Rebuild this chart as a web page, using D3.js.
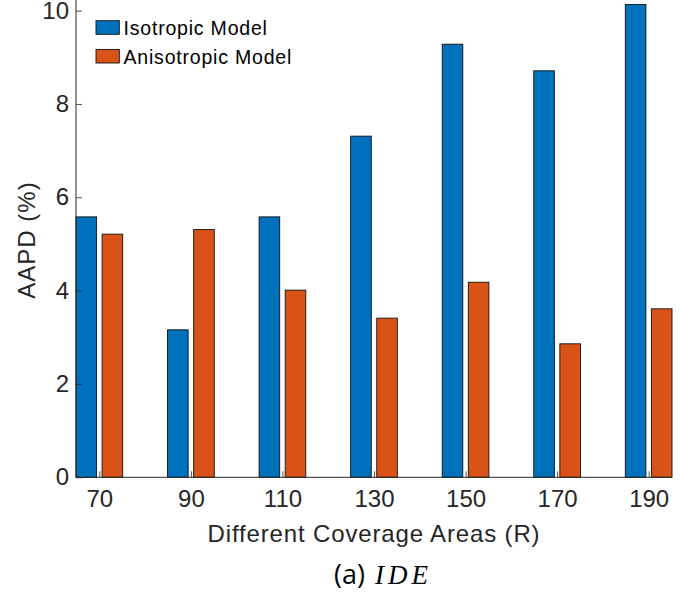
<!DOCTYPE html>
<html>
<head>
<meta charset="utf-8">
<script src="https://cdn.jsdelivr.net/npm/d3@7/dist/d3.min.js"></script>
<style>
  html, body { margin: 0; padding: 0; background: #fff; }
  svg { display: block; }
  text { font-family: "Liberation Sans", Arial, Helvetica, sans-serif; }
</style>
</head>
<body>
<svg id="chart" width="690" height="598"></svg>
<script>
// Coverage areas (R) on the x axis
const areas = [70, 90, 110, 130, 150, 170, 190];
// AAPD (%) per coverage area
const isotropic   = [5.58, 3.16, 5.58, 7.31, 9.28, 8.71, 10.13];
const anisotropic = [5.21, 5.31, 4.01, 3.41, 4.18, 2.86, 3.61];
const seriesNames = ["Isotropic Model", "Anisotropic Model"];
const seriesColors = ["#0072BD", "#D95319"];
const yTicks = [0, 2, 4, 6, 8, 10];

const svg = d3.select("#chart");

const left = 76, right = 672, bottom = 477.3;
const x = d3.scaleLinear().domain([64.9, 195.1]).range([left, right]);
const y = d3.scaleLinear().domain([0, 10]).range([bottom, 10.6]);

// bar layout in data units (grouped bars)
const barOffset = 2.85, barWidth = 4.5;

const series = [isotropic, anisotropic];
series.forEach((vals, si) => {
  const off = si === 0 ? -barOffset : barOffset;
  svg.append("g").selectAll("rect")
    .data(vals)
    .join("rect")
    .attr("x", (d, i) => x(areas[i] + off - barWidth / 2))
    .attr("width", x(barWidth) - x(0))
    .attr("y", d => y(d))
    .attr("height", d => y(0) - y(d))
    .attr("fill", seriesColors[si])
    .attr("stroke", "#111")
    .attr("stroke-width", 0.9);
});

const tickFont = "'Liberation Sans', Arial, sans-serif";

// x axis
const xAxis = svg.append("g")
  .attr("transform", `translate(0,${bottom})`)
  .call(d3.axisBottom(x).tickValues(areas).tickSizeInner(-6).tickSizeOuter(0).tickPadding(13));
xAxis.select(".domain").attr("stroke", "#262626").attr("d", `M${left},0H${right}`);
xAxis.selectAll(".tick line").attr("stroke", "#262626").attr("stroke-width", 0.8);
xAxis.selectAll(".tick text")
  .attr("fill", "#262626")
  .style("font-size", "24px")
  .style("font-family", tickFont);

// y axis
const yAxis = svg.append("g")
  .attr("transform", `translate(${left},0)`)
  .call(d3.axisLeft(y).tickValues(yTicks).tickSizeInner(-6).tickSizeOuter(0).tickPadding(7));
yAxis.select(".domain").attr("stroke", "#262626").attr("d", `M0,${bottom}V0`);
yAxis.selectAll(".tick line").attr("stroke", "#262626").attr("stroke-width", 0.8);
yAxis.selectAll(".tick text")
  .attr("fill", "#262626")
  .style("font-size", "24px")
  .style("font-family", tickFont);

// axis titles
svg.append("text")
  .attr("x", (left + right) / 2)
  .attr("y", 542)
  .attr("text-anchor", "middle")
  .attr("fill", "#262626")
  .style("font-size", "24px")
  .style("letter-spacing", "0.85px")
  .text("Different Coverage Areas (R)");

svg.append("text")
  .attr("transform", `translate(35,240) rotate(-90)`)
  .attr("text-anchor", "middle")
  .attr("fill", "#262626")
  .style("font-size", "24px")
  .style("letter-spacing", "1px")
  .text("AAPD (%)");

// legend
const legend = svg.append("g");
seriesNames.forEach((name, i) => {
  const row = legend.append("g").attr("transform", `translate(96,${20.7 + i * 28.7})`);
  row.append("rect")
    .attr("width", 23.3).attr("height", 13.6)
    .attr("fill", seriesColors[i])
    .attr("stroke", "#111").attr("stroke-width", 0.9);
  row.append("text")
    .attr("x", 27.5).attr("y", 14.3)
    .attr("fill", "#000")
    .style("font-size", "19.5px")
    .style("letter-spacing", "0.8px")
    .text(name);
});

// caption: sub-figure tag and method name
const cap = svg.append("text")
  .attr("x", 334)
  .attr("y", 584);
cap.append("tspan")
  .style("font-family", "'Open Sans', 'Noto Sans', sans-serif")
  .style("font-size", "27px")
  .attr("fill", "#000")
  .text("(a)");
cap.append("tspan")
  .attr("dx", 10)
  .style("font-family", "'Liberation Serif', 'DejaVu Serif', serif")
  .style("font-style", "italic")
  .style("font-size", "27px")
  .style("letter-spacing", "4px")
  .attr("fill", "#000")
  .text("IDE");
</script>
</body>
</html>
